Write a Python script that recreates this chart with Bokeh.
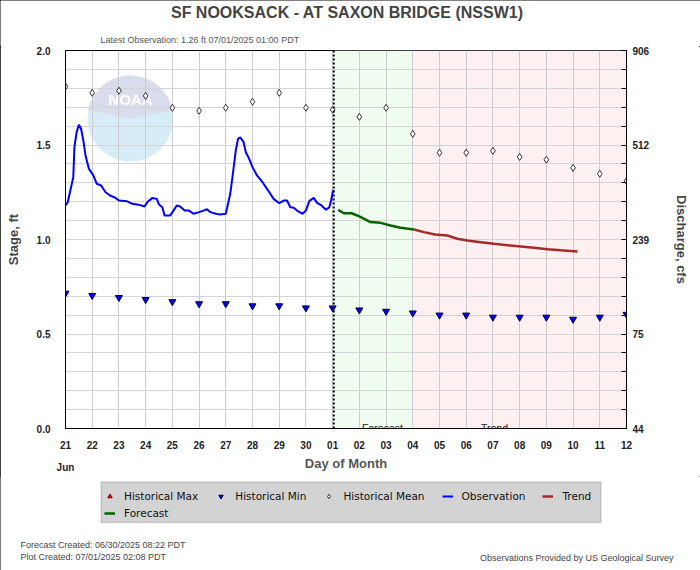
import numpy as np
from bokeh.plotting import figure
from bokeh.models import (Range1d, LinearAxis, FixedTicker, Label, Span, BoxAnnotation,
                          Legend, LegendItem, Grid)
from bokeh.layouts import column
from bokeh.embed import file_html
from bokeh.resources import INLINE

# ---------------- data ----------------
day_ticks = list(range(22))
day_labels = ["21\n\nJun", "22", "23", "24", "25", "26", "27", "28", "29", "30",
              "01", "02", "03", "04", "05", "06", "07", "08", "09", "10", "11", "12"]
stage_ticks = [0.0, 0.5, 1.0, 1.5, 2.0]
stage_labels = ["0.0", "0.5", "1.0", "1.5", "2.0"]
flow_labels = ["44", "75", "239", "512", "906"]
grid_stage = [0.0, 0.1, 0.2, 0.3, 0.4, 0.5, 0.6, 0.7, 0.8, 0.9, 1.0,
              1.1, 1.2, 1.3, 1.4, 1.5, 1.6, 1.7, 1.8, 1.9, 2.0]

# hours since 21 Jun 00:00 PDT
obs_hours = [0, 2, 4, 7, 8, 10, 12, 14, 16, 18, 21, 25, 28, 32, 36, 40, 45, 48, 55, 60,
             67, 71, 74, 78, 82, 84, 87, 89, 94, 97, 100, 103, 107, 111, 115, 120, 124, 127, 130, 135,
             139, 144, 146, 148, 150, 153, 155, 157, 160, 162, 165, 168, 172, 177, 180, 184, 187, 192, 196, 199,
             202, 205, 208, 213, 216, 219, 223, 226, 230, 234, 237, 239, 240, 241]
obs_stage = [1.180, 1.197, 1.250, 1.330, 1.488, 1.568, 1.607, 1.586, 1.524, 1.444,
             1.374, 1.339, 1.295, 1.286, 1.250, 1.233, 1.220, 1.206, 1.203, 1.189,
             1.182, 1.175, 1.201, 1.219, 1.215, 1.185, 1.171, 1.127, 1.127, 1.153,
             1.180, 1.175, 1.153, 1.153, 1.136, 1.145, 1.153, 1.160, 1.145, 1.136,
             1.132, 1.136, 1.189, 1.242, 1.330, 1.471, 1.533, 1.541, 1.515, 1.462,
             1.427, 1.383, 1.339, 1.303, 1.277, 1.242, 1.215, 1.192, 1.206, 1.206,
             1.171, 1.168, 1.153, 1.136, 1.153, 1.203, 1.220, 1.194, 1.180, 1.157,
             1.171, 1.215, 1.250, 1.263]

fcst_hours = [245, 250, 257, 264, 274, 283, 292, 301, 313]
fcst_stage = [1.157, 1.139, 1.139, 1.122, 1.092, 1.088, 1.074, 1.062, 1.053]

trend_hours = [313, 322, 332, 343, 352, 361, 373, 385, 397, 409, 421, 433, 445, 460]
trend_stage = [1.053, 1.039, 1.026, 1.021, 1.004, 0.995, 0.986, 0.977, 0.970, 0.963,
               0.956, 0.949, 0.943, 0.937]

hist_mean = [1.810, 1.776, 1.787, 1.760, 1.697, 1.681, 1.697, 1.729, 1.776, 1.697, 1.686,
             1.649, 1.697, 1.559, 1.459, 1.459, 1.469, 1.437, 1.422, 1.379, 1.348, 1.309]
hist_min = [0.716, 0.704, 0.693, 0.682, 0.671, 0.660, 0.660, 0.649, 0.649, 0.638, 0.638,
            0.627, 0.620, 0.611, 0.600, 0.600, 0.589, 0.589, 0.589, 0.578, 0.589, 0.604]

now_hour = 241
fcst_end_hour = 313

title_text = "SF NOOKSACK - AT SAXON BRIDGE  (NSSW1)"
subtitle_text = "Latest Observation: 1.26 ft 07/01/2025 01:00 PDT"
footer_left = ["Forecast Created: 06/30/2025 08:22 PDT", "Plot Created: 07/01/2025 02:08 PDT"]
footer_right = "Observations Provided by US Geological Survey"

legend_row1 = ["Historical Max", "Historical Min", "Historical Mean", "Observation", "Trend"]
legend_row2 = ["Forecast"]


def to_day(h):
    return [v / 24.0 for v in h]


FONT = "Liberation Sans"
W = 700
TOP_H, MAIN_H, BOT_H = 46, 430, 94


def no_align(f):
    try:
        f.frame_align = False
    except Exception:
        pass


def blank(h):
    f = figure(width=W, height=h, x_range=Range1d(0, 1), y_range=Range1d(0, 1),
               output_backend="svg", toolbar_location=None, x_axis_type=None, y_axis_type=None,
               title=None, min_border=0)
    f.outline_line_color = None
    f.background_fill_color = "white"
    f.border_fill_color = "white"
    no_align(f)
    return f


def label(f, text, sx, sy, size, color, style="normal", align="left", font=FONT):
    f.add_layout(Label(x=sx, y=sy, x_units="screen", y_units="screen", text=text,
                       text_font=font, text_font_size=size, text_font_style=style,
                       text_color=color, text_align=align, text_baseline="middle"))


# ---------------- top strip: titles ----------------
top = blank(TOP_H)
label(top, title_text, 349, TOP_H - 12, "16px", "#444444", "bold", "center")
label(top, subtitle_text, 100, TOP_H - 39.5, "9px", "#555555")

# ---------------- main chart ----------------
p = figure(width=W, height=MAIN_H, x_range=Range1d(0, 21), y_range=Range1d(0, 2),
           output_backend="svg", toolbar_location=None, x_axis_type=None, y_axis_type=None,
           title=None,
           min_border_left=65, min_border_right=74, min_border_top=50 - TOP_H,
           min_border_bottom=TOP_H + MAIN_H - 428)
no_align(p)
p.outline_line_color = "black"
p.outline_line_alpha = 1.0
p.background_fill_color = "white"
p.border_fill_color = "white"

# shaded regions
p.add_layout(BoxAnnotation(left=now_hour / 24, right=fcst_end_hour / 24, fill_color="#f0fcf0",
                           fill_alpha=1, line_color=None, level="image"))
p.add_layout(BoxAnnotation(left=fcst_end_hour / 24, right=21, fill_color="#fdf0f0",
                           fill_alpha=1, line_color=None, level="image"))

# NOAA watermark (decoration)
logo_x, logo_y = 2.43, 1.64
p.wedge(x=[logo_x], y=[logo_y], radius=43, radius_units="screen", start_angle=0,
        end_angle=2 * np.pi, fill_color="#d6ecf6", line_color=None, level="image")
p.wedge(x=[logo_x], y=[logo_y], radius=43, radius_units="screen", start_angle=0.2,
        end_angle=np.pi - 0.2, fill_color="#d9dcec", line_color=None, level="image")
p.add_layout(Label(x=logo_x, y=logo_y, y_offset=19, text="NOAA", text_color="white",
                   text_font=FONT, text_font_style="bold", text_font_size="15px",
                   text_align="center", text_baseline="middle", level="image"))

# grids
p.add_layout(Grid(dimension=0, ticker=FixedTicker(ticks=day_ticks), grid_line_color="#cccccc"))
p.add_layout(Grid(dimension=1, ticker=FixedTicker(ticks=grid_stage), grid_line_color="#d4d4d4"))

# axes
xaxis = LinearAxis(ticker=FixedTicker(ticks=day_ticks),
                   major_label_overrides={t: l for t, l in zip(day_ticks, day_labels)},
                   axis_label="Day of Month")
xaxis.major_tick_out = 0
xaxis.major_tick_in = 0
xaxis.minor_tick_out = 0
xaxis.major_label_standoff = 11
xaxis.major_label_text_font = FONT
xaxis.major_label_text_font_style = "bold"
xaxis.major_label_text_font_size = "10px"
xaxis.major_label_text_line_height = 1.0
xaxis.major_label_text_color = "#222222"
xaxis.axis_label_standoff = -20
xaxis.axis_label_text_font = FONT
xaxis.axis_label_text_font_style = "bold"
xaxis.axis_label_text_font_size = "13px"
xaxis.axis_label_text_color = "#555555"
xaxis.axis_line_color = "black"
p.add_layout(xaxis, "below")

yaxis = LinearAxis(ticker=FixedTicker(ticks=stage_ticks),
                   major_label_overrides={t: l for t, l in zip(stage_ticks, stage_labels)},
                   axis_label="Stage, ft")
yaxis.major_tick_out = 0
yaxis.major_tick_in = 0
yaxis.minor_tick_out = 0
yaxis.major_label_standoff = 15
yaxis.major_label_text_font = FONT
yaxis.major_label_text_font_style = "bold"
yaxis.major_label_text_font_size = "10px"
yaxis.major_label_text_color = "#222222"
yaxis.axis_label_standoff = 13
yaxis.axis_label_text_font = FONT
yaxis.axis_label_text_font_style = "bold"
yaxis.axis_label_text_font_size = "13px"
yaxis.axis_label_text_color = "#444444"
yaxis.axis_line_color = "black"
p.add_layout(yaxis, "left")

p.extra_y_ranges = {"q": Range1d(0, 2)}
raxis = LinearAxis(y_range_name="q", ticker=FixedTicker(ticks=stage_ticks, minor_ticks=grid_stage),
                   major_label_overrides={t: l for t, l in zip(stage_ticks, flow_labels)},
                   axis_label="Discharge, cfs")
raxis.major_tick_out = 0
raxis.major_tick_in = 5
raxis.minor_tick_out = 0
raxis.minor_tick_in = 5
raxis.major_tick_line_color = "black"
raxis.minor_tick_line_color = "black"
raxis.major_label_standoff = 6
raxis.major_label_text_font = FONT
raxis.major_label_text_font_style = "bold"
raxis.major_label_text_font_size = "10px"
raxis.major_label_text_color = "#222222"
raxis.axis_label_standoff = 22
raxis.axis_label_text_font = FONT
raxis.axis_label_text_font_style = "bold"
raxis.axis_label_text_font_size = "13px"
raxis.axis_label_text_color = "#444444"
raxis.axis_line_color = "black"
p.add_layout(raxis, "right")

# now line
p.add_layout(Span(location=now_hour / 24, dimension="height", line_color="black",
                  line_width=2, line_dash="2 2"))

# data
obs_style = dict(line_color="#0000ff", line_width=2)
trend_style = dict(line_color="#a52a2a", line_width=2.5)
fcst_style = dict(line_color="#006400", line_width=2.5)
max_style = dict(marker="triangle", size=8, fill_color="red", line_color="#700000")
min_style = dict(marker="inverted_triangle", size=7, fill_color="#0000ff", line_color="#000040")
mean_style = dict(marker="diamond", size=7, fill_color="white", line_color="black", line_width=0.8)

p.scatter(x=day_ticks, y=hist_min, **min_style)
p.scatter(x=day_ticks, y=hist_mean, **mean_style)
p.line(x=to_day(obs_hours), y=obs_stage, **obs_style)
p.line(x=to_day(trend_hours), y=trend_stage, **trend_style)
p.line(x=to_day(fcst_hours), y=fcst_stage, **fcst_style)

# region labels
p.add_layout(Label(x=317, y=1, x_units="screen", y_units="screen", text="Forecast",
                   text_font=FONT, text_font_size="10.5px", text_color="#222222",
                   text_align="center", text_baseline="alphabetic"))
p.add_layout(Label(x=429, y=1, x_units="screen", y_units="screen", text="Trend",
                   text_font=FONT, text_font_size="10.5px", text_color="#222222",
                   text_align="center", text_baseline="alphabetic"))

# ---------------- bottom strip: legend + footer ----------------
bot = blank(BOT_H)
y0 = TOP_H + MAIN_H  # absolute y of the bottom strip's top edge


def up(ay):
    # absolute page y -> screen y measured up from the strip bottom
    return y0 + BOT_H - ay


bot.add_layout(BoxAnnotation(left=100.5, right=600.5, top=up(481.5), bottom=up(522),
                             left_units="screen", right_units="screen",
                             top_units="screen", bottom_units="screen",
                             fill_color="#d3d3d3", fill_alpha=1.0,
                             line_color="#808080", line_width=1.5))

nan = np.array([np.nan])
r1 = [
    bot.scatter(x=nan, y=nan, **max_style),
    bot.scatter(x=nan, y=nan, **min_style),
    bot.scatter(x=nan, y=nan, **mean_style),
    bot.line(x=nan, y=nan, **obs_style),
    bot.line(x=nan, y=nan, **trend_style),
]
r2 = [bot.line(x=nan, y=nan, **fcst_style)]


def make_legend(labels, rends, row_center):
    lg = Legend(items=[LegendItem(label=t, renderers=[r]) for t, r in zip(labels, rends)],
                location=(104, up(row_center + 7.5)), orientation="horizontal")
    lg.background_fill_alpha = 0.0
    lg.border_line_color = None
    lg.label_text_font = "DejaVu Sans"
    lg.label_text_font_size = "10.5px"
    lg.label_text_color = "#111111"
    lg.glyph_width = 11
    lg.glyph_height = 14
    lg.label_height = 14
    lg.label_standoff = 9
    lg.padding = 4
    lg.margin = 0
    lg.spacing = 17
    bot.add_layout(lg, "center")


make_legend(legend_row1, r1, 495)
make_legend(legend_row2, r2, 512)

label(bot, footer_left[0], 20, up(544), "9px", "#444444")
label(bot, footer_left[1], 20, up(556), "9px", "#444444")
label(bot, footer_right, 673, up(557), "9px", "#444444", align="right")

layout = column(top, p, bot, spacing=0,
                styles={"outline": "1px solid black", "outline-offset": "-1px"})

open("out.html", "w").write(file_html(layout, INLINE))
